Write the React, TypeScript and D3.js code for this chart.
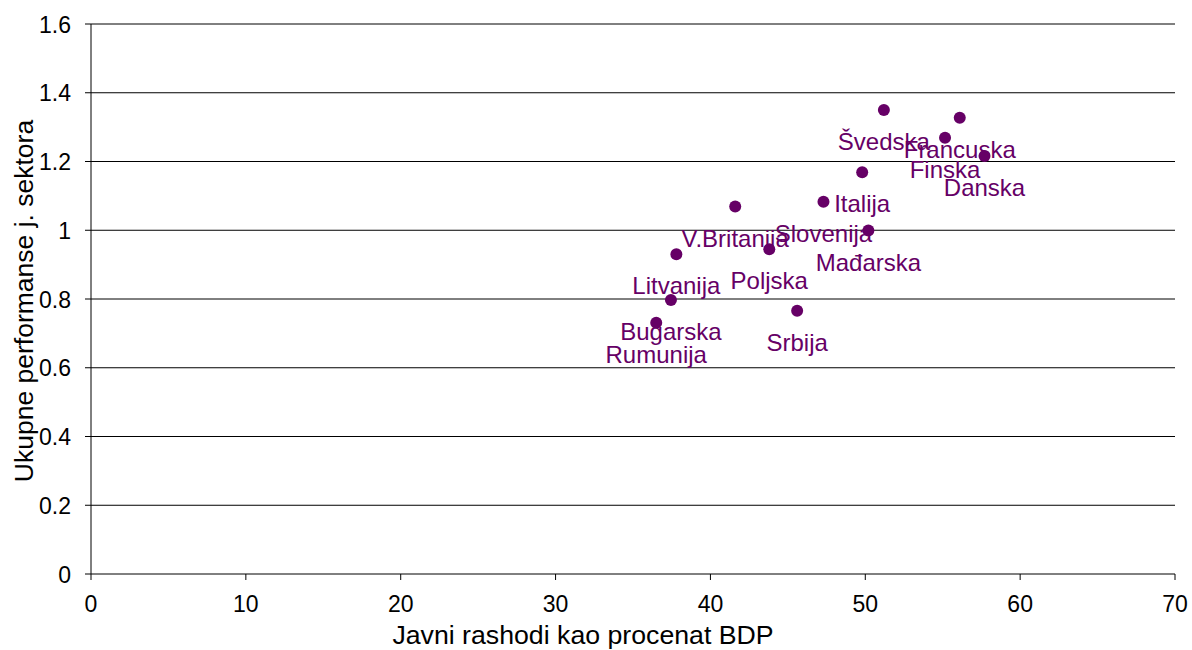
import React from "react";
import * as d3 from "d3";

const countries = [
  "Švedska", "Francuska", "Finska", "Danska", "Italija", "Slovenija",
  "V.Britanija", "Mađarska", "Poljska", "Litvanija", "Srbija", "Bugarska", "Rumunija",
];
const expenditure = [51.2, 56.1, 55.15, 57.7, 49.8, 47.3, 41.6, 50.2, 43.8, 37.8, 45.6, 37.45, 36.5];
const performance = [1.35, 1.327, 1.269, 1.216, 1.169, 1.083, 1.069, 0.999, 0.945, 0.93, 0.766, 0.797, 0.731];

const xTicks = [0, 10, 20, 30, 40, 50, 60, 70];
const yTicks = [0, 0.2, 0.4, 0.6, 0.8, 1, 1.2, 1.4, 1.6];
const xTitle = "Javni rashodi kao procenat BDP";
const yTitle = "Ukupne performanse j. sektora";

const W = 1192;
const H = 650;
const M = { left: 91, right: 17, top: 24, bottom: 76 };
const PURPLE = "#660066";
const FONT = "'Liberation Sans', Arial, sans-serif";

export default function App() {
  const x = d3.scaleLinear().domain([0, 70]).range([M.left, W - M.right]);
  const y = d3.scaleLinear().domain([0, 1.6]).range([H - M.bottom, M.top]);
  const fmtY = (v: number) => (v === 0 || v === 1 ? String(v) : d3.format(".1f")(v));

  return (
    <div style={{ position: "absolute", left: 0, top: 0 }}>
      <svg width={W} height={H} style={{ display: "block", background: "#fff" }} fontFamily={FONT}>
        {yTicks.map((t) => (
          <g key={"y" + t}>
            {t > 0 && (
              <line x1={x(0)} x2={x(70)} y1={y(t)} y2={y(t)} stroke="#000" strokeWidth={1} />
            )}
            <line x1={x(0) - 6} x2={x(0)} y1={y(t)} y2={y(t)} stroke="#000" strokeWidth={1} />
            <text x={71} y={y(t) + 8.5} textAnchor="end" fontSize={23} fill="#000">
              {fmtY(t)}
            </text>
          </g>
        ))}
        {xTicks.map((t) => (
          <g key={"x" + t}>
            <line x1={x(t)} x2={x(t)} y1={y(0)} y2={y(0) + 6} stroke="#000" strokeWidth={1} />
            <text x={x(t)} y={612} textAnchor="middle" fontSize={23} fill="#000">
              {t}
            </text>
          </g>
        ))}
        <line x1={x(0)} x2={x(70)} y1={y(0)} y2={y(0)} stroke="#000" strokeWidth={1} />
        <line x1={x(0)} x2={x(0)} y1={y(0)} y2={y(1.6)} stroke="#000" strokeWidth={1} />

        {countries.map((c, i) => (
          <circle key={"p" + c} cx={x(expenditure[i])} cy={y(performance[i])} r={6} fill={PURPLE} />
        ))}
        {countries.map((c, i) => (
          <text
            key={"l" + c}
            x={x(expenditure[i])}
            y={y(performance[i]) + 40}
            textAnchor="middle"
            fontSize={24}
            fill={PURPLE}
          >
            {c}
          </text>
        ))}

        <text x={583} y={644} textAnchor="middle" fontSize={26.7} fill="#000">
          {xTitle}
        </text>
        <text
          transform={`translate(33, 301) rotate(-90)`}
          textAnchor="middle"
          fontSize={26.5}
          fill="#000"
        >
          {yTitle}
        </text>
      </svg>
    </div>
  );
}
